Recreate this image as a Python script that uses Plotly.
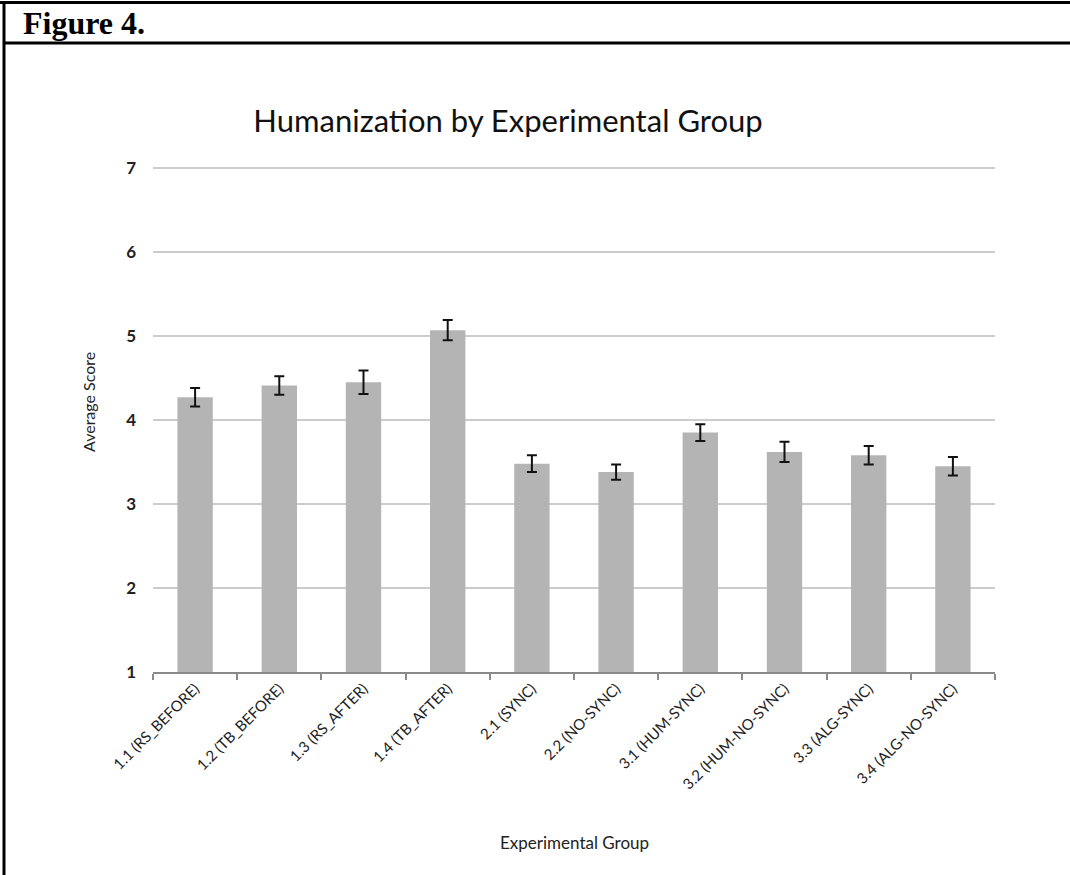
import plotly.graph_objects as go

groups = ["1.1 (RS_BEFORE)", "1.2 (TB_BEFORE)", "1.3 (RS_AFTER)", "1.4 (TB_AFTER)",
          "2.1 (SYNC)", "2.2 (NO-SYNC)", "3.1 (HUM-SYNC)", "3.2 (HUM-NO-SYNC)",
          "3.3 (ALG-SYNC)", "3.4 (ALG-NO-SYNC)"]
means = [4.27, 4.41, 4.45, 5.07, 3.48, 3.38, 3.85, 3.62, 3.58, 3.45]
errors = [0.11, 0.11, 0.14, 0.12, 0.10, 0.09, 0.10, 0.12, 0.11, 0.11]
y_ticks = [1, 2, 3, 4, 5, 6, 7]

W, H = 1070, 875
L, R, T, B = 153, 75, 167, 203
PW, PH = W - L - R, H - T - B

def px(x):
    return (x - L) / PW

def py(y):
    return (H - B - y) / PH

fig = go.Figure(go.Bar(
    x=groups, y=means,
    marker=dict(color="#b4b4b4", line=dict(width=0)),
    error_y=dict(type="data", array=errors, visible=True, color="#111111",
                 thickness=2, width=5),
))

shapes = [
    dict(type="line", xref="paper", yref="paper", x0=px(0), x1=px(W), y0=py(2.5), y1=py(2.5),
         line=dict(color="black", width=3)),
    dict(type="line", xref="paper", yref="paper", x0=px(4), x1=px(W), y0=py(43), y1=py(43),
         line=dict(color="black", width=3)),
    dict(type="line", xref="paper", yref="paper", x0=px(4), x1=px(4), y0=py(1), y1=py(H),
         line=dict(color="black", width=3)),
]

fig.update_layout(
    width=W, height=H,
    margin=dict(l=L, r=R, t=T, b=B, autoexpand=False),
    paper_bgcolor="white", plot_bgcolor="white",
    bargap=0.58,
    showlegend=False,
    shapes=shapes,
    title=dict(text="Humanization by Experimental Group", xref="container", x=508 / W,
               xanchor="center", yref="container", y=1 - 121 / H, yanchor="middle",
               font=dict(family="Lato", size=31, color="#111111")),
    annotations=[
        dict(text="<b>Figure 4.</b>", xref="paper", yref="paper", x=px(21), y=py(23),
             xanchor="left", yanchor="middle", showarrow=False,
             font=dict(family="Liberation Serif", size=32, color="black")),
        dict(text="Average Score", xref="paper", yref="paper", x=px(88), y=py(402),
             xanchor="center", yanchor="middle", showarrow=False, textangle=-90,
             font=dict(family="Lato", size=16, color="#222222")),
        dict(text="Experimental Group", xref="paper", yref="paper", x=px(574), y=py(842),
             xanchor="center", yanchor="middle", showarrow=False,
             font=dict(family="Lato", size=17, color="#222222")),
    ],
    font=dict(family="Lato", color="#222222"),
)

fig.update_xaxes(
    type="category",
    showline=True, linecolor="#8a8a8a", linewidth=2,
    ticks="outside", tickson="boundaries", ticklen=6, tickcolor="#8a8a8a", tickwidth=1.5,
    tickangle=-45, tickfont=dict(family="Lato", size=15, color="#222222"),
    showgrid=False,
)
fig.update_yaxes(
    range=[1, 7.012], tickvals=y_ticks, ticktext=[f"<b>{v}</b>" for v in y_ticks],
    showgrid=True, gridcolor="#cccccc", gridwidth=1.5,
    zeroline=False, showline=False, ticks="",
    tickfont=dict(family="Lato", size=17, color="#222222"),
    ticklabelstandoff=16,
)

fig.write_html("out.html", config={"displayModeBar": False},
               post_script="document.body.style.margin='0';")
